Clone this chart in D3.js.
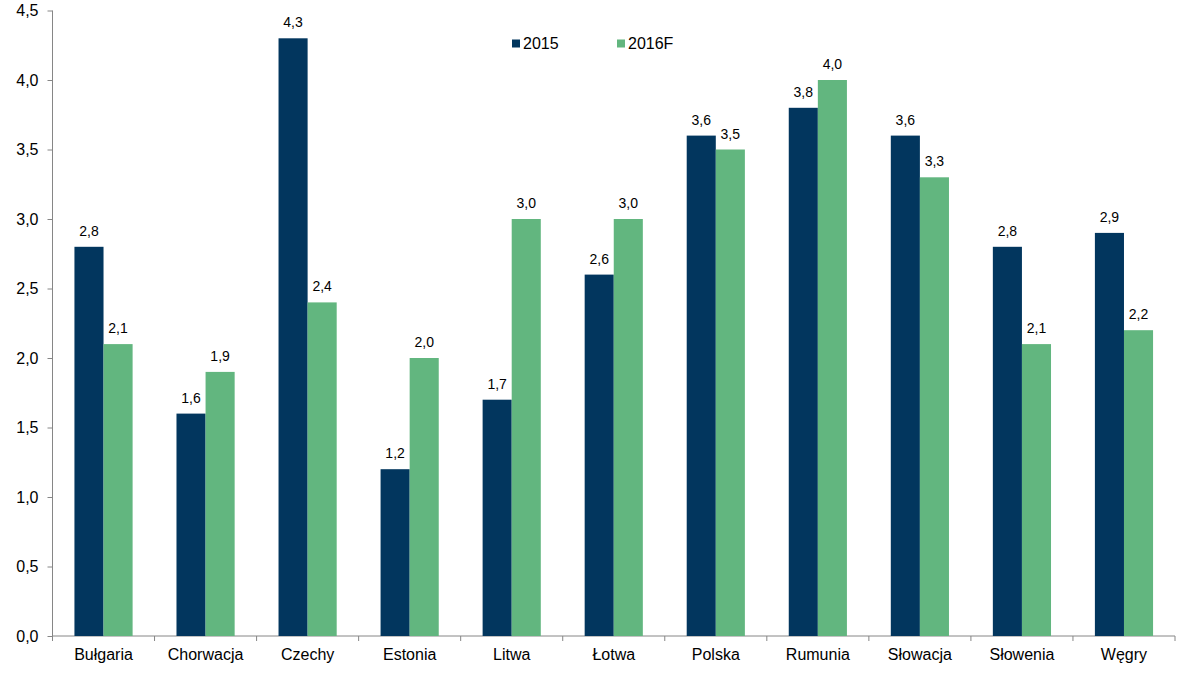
<!DOCTYPE html>
<html>
<head>
<meta charset="utf-8">
<script src="https://cdn.jsdelivr.net/npm/d3@7"></script>
<style>
  body { margin: 0; background: #fff; }
  svg text { font-family: "Liberation Sans", Arial, sans-serif; fill: #000; }
</style>
</head>
<body>
<svg id="chart" width="1179" height="680"></svg>
<script>
// dane z wykresu
const countries = ['Bułgaria', 'Chorwacja', 'Czechy', 'Estonia', 'Litwa', 'Łotwa', 'Polska', 'Rumunia', 'Słowacja', 'Słowenia', 'Węgry']
const values2015 = [2.8, 1.6, 4.3, 1.2, 1.7, 2.6, 3.6, 3.8, 3.6, 2.8, 2.9]
const values2016 = [2.1, 1.9, 2.4, 2.0, 3.0, 3.0, 3.5, 4.0, 3.3, 2.1, 2.2]
const seriesNames = ['2015', '2016F']
const yTicks = [0, 0.5, 1, 1.5, 2, 2.5, 3, 3.5, 4, 4.5]

const colors = ['#02365E', '#62B67F']
const fmt = v => d3.format('.1f')(v).replace('.', ',')

const svg = d3.select('#chart')
const margin = { left: 52.5, right: 4, top: 10.5, bottom: 44 }
const W = 1179, H = 680

const x = d3.scaleBand()
  .domain(countries)
  .range([margin.left, W - margin.right])
  .paddingInner(0)
  .paddingOuter(0)

const y = d3.scaleLinear()
  .domain([0, 4.5])
  .range([H - margin.bottom, margin.top])

const sub = d3.scaleBand()
  .domain(seriesNames)
  .range([0, x.bandwidth() * 0.57])

const groupOffset = (x.bandwidth() - sub.range()[1]) / 2

// osie
const yAxis = d3.axisLeft(y).tickValues(yTicks).tickFormat(fmt).tickSize(5).tickPadding(9)
const gy = svg.append('g').attr('transform', `translate(${margin.left},0)`).call(yAxis)
gy.selectAll('path, line').attr('stroke', '#868686')
gy.select('.domain').attr('d', `M0,${y(4.5)}V${y(0)}`)
gy.selectAll('text').attr('font-size', 16)

const xAxis = d3.axisBottom(x).tickSize(0).tickPadding(12.5)
const gx = svg.append('g').attr('transform', `translate(0,${y(0)})`).call(xAxis)
gx.select('.domain').attr('stroke', '#868686').attr('d', `M${margin.left},0H${W - margin.right}`)
gx.selectAll('text').attr('font-size', 16)

// kreski między kategoriami
const bounds = countries.map(c => x(c)).concat([x(countries[countries.length - 1]) + x.bandwidth()])
svg.append('g').selectAll('line').data(bounds).join('line')
  .attr('x1', d => d).attr('x2', d => d)
  .attr('y1', y(0)).attr('y2', y(0) + 5)
  .attr('stroke', '#868686')

// słupki
const data = countries.map((c, i) => ({ c, vals: [values2015[i], values2016[i]] }))
const groups = svg.append('g').selectAll('g').data(data).join('g')
  .attr('transform', d => `translate(${x(d.c) + groupOffset},0)`)

groups.selectAll('rect').data(d => d.vals.map((v, j) => ({ v, s: seriesNames[j], j })))
  .join('rect')
  .attr('x', d => sub(d.s))
  .attr('width', sub.bandwidth())
  .attr('y', d => y(d.v))
  .attr('height', d => y(0) - y(d.v))
  .attr('fill', d => colors[d.j])

groups.selectAll('text').data(d => d.vals.map((v, j) => ({ v, s: seriesNames[j] })))
  .join('text')
  .attr('x', d => sub(d.s) + sub.bandwidth() / 2)
  .attr('y', d => y(d.v) - 11)
  .attr('text-anchor', 'middle')
  .attr('font-size', 14)
  .text(d => fmt(d.v))

// legenda
const legend = svg.append('g').attr('transform', 'translate(512,39.5)')
const legX = [0, 105]
seriesNames.forEach((s, i) => {
  legend.append('rect').attr('x', legX[i]).attr('y', 0).attr('width', 8).attr('height', 8).attr('fill', colors[i])
  legend.append('text').attr('x', legX[i] + 11).attr('y', 9).attr('font-size', 16).text(s)
})
</script>
</body>
</html>
